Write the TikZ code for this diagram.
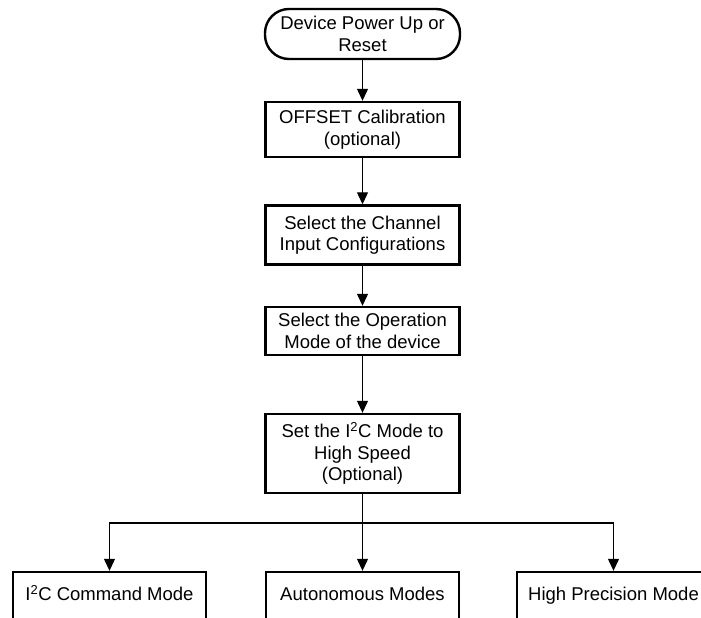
\documentclass[tikz,border=0pt]{standalone}
\usepackage{fontspec}
\setmainfont{Liberation Sans}
\usetikzlibrary{arrows.meta}
\begin{document}
\begin{tikzpicture}[x=1pt,y=-1pt,
  box/.style={draw, line width=2.4pt, inner sep=0pt, align=center,
    font=\fontsize{18.5}{21.5}\selectfont},
  conn/.style={line width=1.2pt},
  arr/.style={conn, -{Triangle[length=12pt,width=11pt]}}]
\useasboundingbox (0,0) rectangle (701,618);
\clip (0,0) rectangle (701,618);
% main column
\node[box, rounded corners=24pt, minimum width=195pt, minimum height=50pt] (start) at (362.5,34) {Device Power Up or\\Reset};
\node[box, minimum width=194pt, minimum height=55pt] (offset) at (362.5,129.5) {OFFSET Calibration\\(optional)};
\node[box, minimum width=194pt, minimum height=59pt] (chan) at (362.5,235) {Select the Channel\\Input Configurations};
\node[box, minimum width=194pt, minimum height=48pt] (opmode) at (362.5,331) {Select the Operation\\Mode of the device};
\node[box, minimum width=194pt, minimum height=79pt] (i2c) at (362.5,453.5) {Set the I\textsuperscript{2}C Mode to\\High Speed\\(Optional)};
% operating modes
\node[box, minimum width=193pt, minimum height=48pt] (cmd) at (109.5,596) {\strut I\textsuperscript{2}C Command Mode};
\node[box, minimum width=193pt, minimum height=48pt] (auto) at (362.5,596) {\strut Autonomous Modes};
\node[box, minimum width=193pt, minimum height=48pt] (hp) at (613.5,596) {\strut High Precision Mode};
\coordinate (split) at (362.5,523);
% connectors
\draw[arr] (start.south) -- (offset.north);
\draw[arr] (offset.south) -- (chan.north);
\draw[arr] (chan.south) -- (opmode.north);
\draw[arr] (opmode.south) -- (i2c.north);
\draw[conn] (i2c.south) -- (split);
\draw[arr] (split) -- (auto.north);
\draw[arr] (split) -| (cmd.north);
\draw[arr] (split) -| (hp.north);
\end{tikzpicture}
\end{document}
